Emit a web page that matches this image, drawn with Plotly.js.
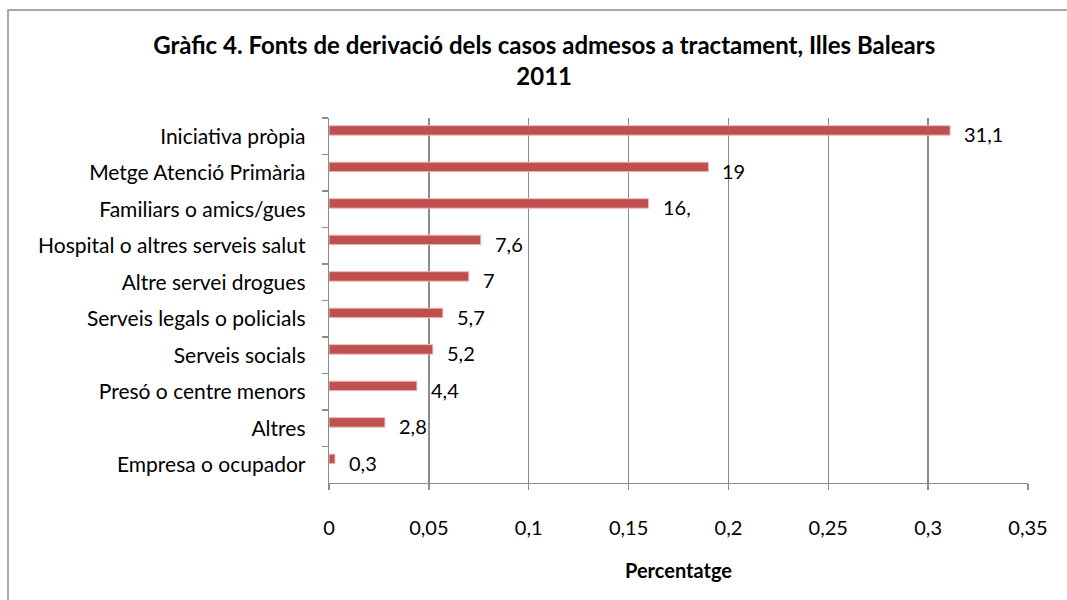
<!DOCTYPE html>
<html>
<head>
<meta charset="utf-8">
<script src="https://cdn.plot.ly/plotly-3.0.1.min.js"></script>
<style>
html,body{margin:0;padding:0;background:#fff;}
#chart{width:1067px;height:600px;}
</style>
</head>
<body>
<div id="chart"></div>
<script>
const categories = ["Iniciativa pròpia","Metge Atenció Primària","Familiars o amics/gues","Hospital o altres serveis salut","Altre servei drogues","Serveis legals o policials","Serveis socials","Presó o centre menors","Altres","Empresa o ocupador"];
const values = [0.311, 0.19, 0.16, 0.076, 0.07, 0.057, 0.052, 0.044, 0.028, 0.003];
const valueLabels = ["31,1","19","16,","7,6","7","5,7","5,2","4,4","2,8","0,3"];
const tickVals = [0, 0.05, 0.1, 0.15, 0.2, 0.25, 0.3, 0.35];
const tickText = ["0","0,05","0,1","0,15","0,2","0,25","0,3","0,35"];

const FONT = "Lato, 'Open Sans', sans-serif";

const trace = {
  type: 'bar',
  orientation: 'h',
  x: values,
  y: categories,
  width: 0.26,
  offset: -0.29,
  marker: {color: '#C0504D', line: {color: '#E8BCBB', width: 1}},
  hoverinfo: 'x+y'
};

const annotations = categories.map((c, i) => ({
  x: values[i], y: c, xref: 'x', yref: 'y',
  text: valueLabels[i], showarrow: false,
  xanchor: 'left', yanchor: 'middle', xshift: 12, yshift: 2,
  font: {family: FONT, size: 20, color: '#000'}
}));
annotations.push({
  xref: 'paper', yref: 'paper', x: 0.5, y: -0.238, yanchor: 'middle',
  text: '<b>Percentatge</b>', showarrow: false,
  font: {family: FONT, size: 20, color: '#000'}
});

const layout = {
  width: 1067, height: 600,
  margin: {l: 329, r: 39, t: 118, b: 117},
  paper_bgcolor: '#fff', plot_bgcolor: '#fff',
  showlegend: false,
  title: {
    text: '<b>Gràfic 4. Fonts de derivació dels casos admesos a tractament, Illes Balears<br>2011</b>',
    x: 0.51, xanchor: 'center', y: 0.91, yanchor: 'middle',
    font: {family: FONT, size: 24, color: '#000'}
  },
  xaxis: {
    range: [0, 0.35], tickvals: tickVals, ticktext: tickText,
    showgrid: true, gridcolor: '#8C8C8C', gridwidth: 1.3,
    showline: true, linecolor: '#8C8C8C', linewidth: 1.3,
    ticks: 'outside', ticklen: 6, tickcolor: '#8C8C8C', tickwidth: 1.3,
    ticklabelstandoff: 21,
    tickfont: {family: FONT, size: 20, color: '#000'},
    zeroline: false, fixedrange: true
  },
  yaxis: {
    type: 'category', categoryorder: 'array', categoryarray: categories,
    autorange: 'reversed',
    showline: true, linecolor: '#8C8C8C', linewidth: 1.3,
    ticks: 'outside', ticklen: 6, tickcolor: '#8C8C8C', tickwidth: 1.3,
    tickson: 'boundaries', ticklabelstandoff: 18,
    tickfont: {family: FONT, size: 21, color: '#000'},
    showgrid: false, fixedrange: true
  },
  annotations: annotations,
  shapes: [{
    type: 'rect', xref: 'paper', yref: 'paper',
    x0: (8 - 329) / 699, x1: 2, y0: -2, y1: (600 - 10 - 117) / 365,
    line: {color: '#8C8C8C', width: 1.5}, fillcolor: 'rgba(0,0,0,0)', layer: 'below'
  }]
};

Plotly.newPlot('chart', [trace], layout, {displayModeBar: false, staticPlot: true});
</script>
</body>
</html>
